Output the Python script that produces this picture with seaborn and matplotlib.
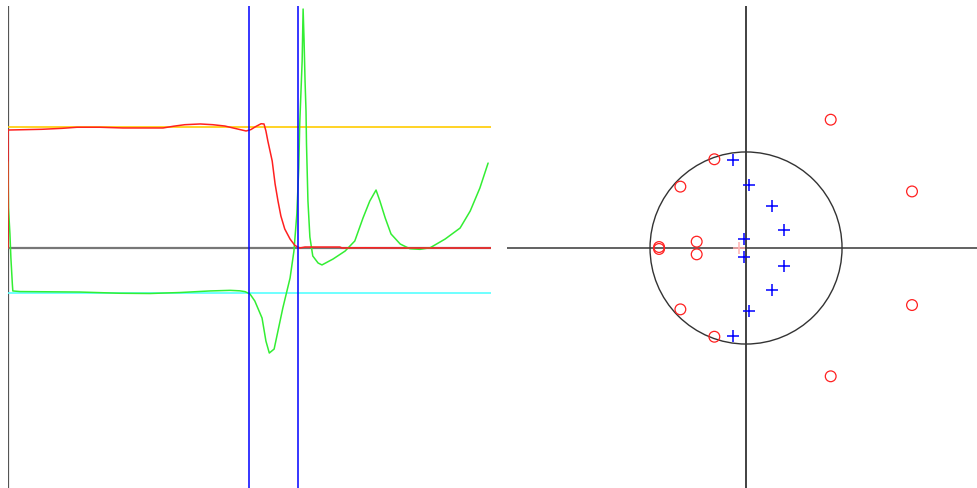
import matplotlib
matplotlib.use("Agg")
import matplotlib.pyplot as plt
from matplotlib.patches import Circle
import seaborn as sns
import pandas as pd

# Frequency response (normalised frequency 0..1)
mag_freq = [0.0, 0.0, 0.070, 0.112, 0.143, 0.190, 0.238, 0.321, 0.342, 0.366, 0.398,
            0.424, 0.449, 0.466, 0.480, 0.493, 0.503, 0.513, 0.524, 0.530, 0.534,
            0.538, 0.547, 0.553, 0.559, 0.565, 0.573, 0.584, 0.594, 0.604, 0.615,
            0.687, 0.692, 0.739, 0.812, 1.0]
mag_value = [0.0, 0.975, 0.981, 0.989, 0.998, 0.998, 0.992, 0.992, 1.006, 1.019, 1.025,
             1.019, 1.008, 0.992, 0.979, 0.967, 0.979, 1.004, 1.027, 1.025, 0.967,
             0.884, 0.719, 0.529, 0.388, 0.264, 0.157, 0.074, 0.021, 0.0, 0.008,
             0.008, 0.0, 0.002, 0.0, 0.0]

delay_freq = [0.0, 0.001, 0.004, 0.006, 0.009, 0.010, 0.025, 0.149, 0.232, 0.294,
              0.356, 0.418, 0.460, 0.480, 0.491, 0.501, 0.511, 0.526, 0.534, 0.541,
              0.551, 0.569, 0.584, 0.592, 0.598, 0.602, 0.604, 0.609, 0.611, 0.613,
              0.615, 0.617, 0.618, 0.621, 0.625, 0.631, 0.642, 0.650, 0.673, 0.698,
              0.718, 0.735, 0.749, 0.762, 0.770, 0.781, 0.793, 0.812, 0.832, 0.853,
              0.874, 0.905, 0.936, 0.957, 0.977, 0.994]
delay_value = [0.711, 0.331, 0.116, -0.083, -0.298, -0.355, -0.360, -0.364, -0.374, -0.376,
               -0.368, -0.355, -0.350, -0.354, -0.361, -0.380, -0.438, -0.579, -0.769, -0.868,
               -0.835, -0.496, -0.248, -0.025, 0.281, 0.661, 1.025, 1.545, 1.975, 1.711,
               1.380, 1.132, 0.860, 0.388, 0.091, -0.066, -0.124, -0.140, -0.091, -0.025,
               0.058, 0.248, 0.388, 0.479, 0.388, 0.248, 0.116, 0.033, -0.006, -0.011,
               0.002, 0.074, 0.165, 0.306, 0.496, 0.702]

passband_level = 1.0
delay_level = -0.372
band_edges = [0.5, 0.6]

# Pole / zero locations in the z-plane
zeros_re = [0.882, 0.882, -0.330, -0.330, -0.684, -0.684, -0.906, -0.906,
            -0.514, -0.514, 1.729, 1.729]
zeros_im = [1.336, -1.336, 0.924, -0.924, 0.639, -0.639, 0.010, -0.010,
            0.066, -0.066, 0.589, -0.594]
poles_re = [-0.132, -0.132, 0.028, 0.028, 0.274, 0.274, 0.399, 0.399, -0.021, -0.021]
poles_im = [0.920, -0.920, 0.656, -0.656, 0.437, -0.437, 0.183, -0.183, 0.090, -0.090]
origin_pole_re = [-0.07]
origin_pole_im = [0.0]

sns.set_theme(style="white")

W, H = 977, 488
fig = plt.figure(figsize=(W / 100, H / 100), dpi=100)
fig.patch.set_facecolor("white")

ax1 = fig.add_axes([8 / W, -2 / H, 483 / W, 484 / H])
ax2 = fig.add_axes([507 / W, -2 / H, 470 / W, 484 / H])
for ax in (ax1, ax2):
    ax.set_facecolor("white")
    for s in ax.spines.values():
        s.set_visible(False)
    ax.set_xticks([])
    ax.set_yticks([])
    ax.set_xlabel("")
    ax.set_ylabel("")

# ---- response panel ----
ax1.set_xlim(0, 1)
ax1.set_ylim(-2, 2)
ax1.axvline(0, color="#555555", lw=1.6, zorder=1)
ax1.axhline(0, color="#777777", lw=1.6, zorder=1)
ax1.axhline(passband_level, color="#ffcc00", lw=1.2, zorder=2)
ax1.axhline(delay_level, color="#55ffff", lw=1.2, zorder=2)

mag_df = pd.DataFrame({"f": mag_freq, "v": mag_value})
del_df = pd.DataFrame({"f": delay_freq, "v": delay_value})
sns.lineplot(data=del_df, x="f", y="v", sort=False, estimator=None,
             color="#33ee33", lw=1.1, ax=ax1, zorder=3)
sns.lineplot(data=mag_df, x="f", y="v", sort=False, estimator=None,
             color="#ff2020", lw=1.1, ax=ax1, zorder=4)
for edge in band_edges:
    ax1.axvline(edge, color="#0000ff", lw=1.1, zorder=5)
ax1.set_xlabel("")
ax1.set_ylabel("")

# ---- pole-zero panel ----
ax2.set_xlim(-2.49, 2.406)
ax2.set_ylim(-2.52, 2.52)
ax2.axhline(0, color="#555555", lw=1.3, zorder=1)
ax2.axvline(0, color="#333333", lw=1.3, zorder=1)
ax2.add_patch(Circle((0, 0), 1.0, fill=False, edgecolor="#333333", lw=1.0, zorder=2))

sns.scatterplot(x=zeros_re, y=zeros_im, ax=ax2, marker="o", s=60,
                facecolors="none", edgecolors="#ff2020", linewidths=0.9, zorder=4)
sns.scatterplot(x=poles_re, y=poles_im, ax=ax2, marker="+", s=75,
                color="#0000ff", linewidths=1.1, zorder=4)
sns.scatterplot(x=origin_pole_re, y=origin_pole_im, ax=ax2, marker="+", s=75,
                color="#ffb0b0", linewidths=1.1, zorder=3)
ax2.set_xlabel("")
ax2.set_ylabel("")

fig.savefig("out.png", dpi=100, facecolor="white")
